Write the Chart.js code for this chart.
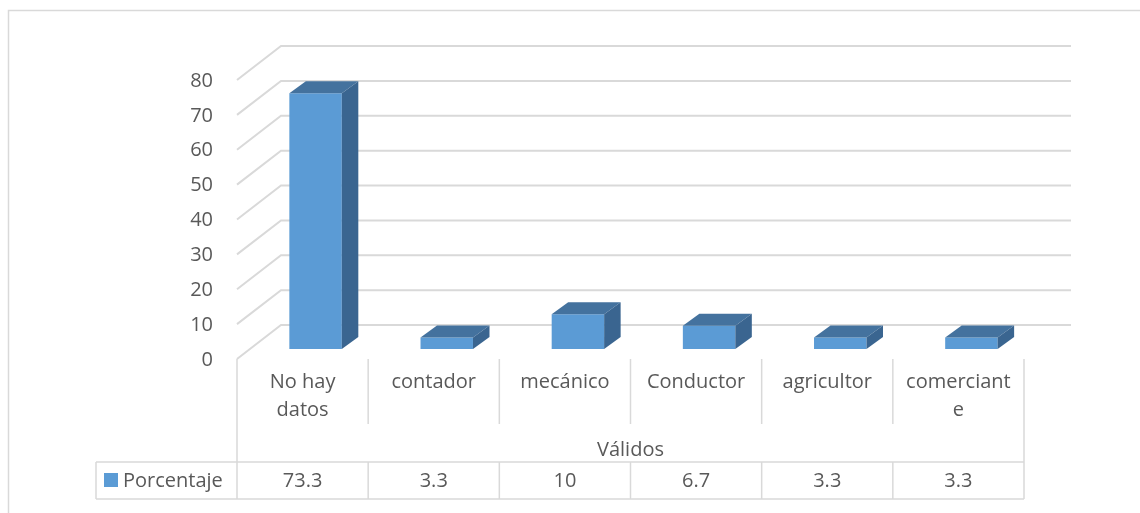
<!DOCTYPE html>
<html>
<head>
<meta charset="utf-8">
<script src="https://cdn.jsdelivr.net/npm/chart.js@4"></script>
<style>html,body{margin:0;padding:0;background:#fff;overflow:hidden}</style>
</head>
<body>
<canvas id="chart" width="1140" height="513"></canvas>
<script>
// data
const categories = [['No hay', 'datos'], ['contador'], ['mecánico'], ['Conductor'], ['agricultor'], ['comerciant', 'e']];
const porcentaje = [73.3, 3.3, 10, 6.7, 3.3, 3.3];
const valueLabels = ['73.3', '3.3', '10', '6.7', '3.3', '3.3'];
const yTicks = [0, 10, 20, 30, 40, 50, 60, 70, 80];
const groupLabel = 'Válidos';
const seriesName = 'Porcentaje';

const FONT = '20px "Open Sans"';
const TXT = '#595959';
const GRID = '#d9d9d9';
// depth offsets: bar plane -> front edge, bar plane -> back wall, bar depth
const FRONT = {dx: -13, dy: 10};
const BACK = {dx: 31, dy: -24};
const BAR = {dx: 16.5, dy: -12};

function line(ctx, x1, y1, x2, y2) {
    ctx.beginPath();
    ctx.moveTo(x1, y1);
    ctx.lineTo(x2, y2);
    ctx.stroke();
}

// draws the fake 3d walls, the data table and the bar tops / sides
const excel3d = {
    id: 'excel3d',
    beforeDatasetsDraw(chart) {
        const {ctx, chartArea: a, scales: {x, y}} = chart;
        ctx.save();
        ctx.strokeStyle = GRID;
        ctx.lineWidth = 1.5;
        ctx.strokeRect(8.5, 10.5, 1300, 700);

        const fl = a.left + FRONT.dx, bl = a.left + BACK.dx, br = a.right + BACK.dx + 3;
        ctx.lineWidth = 2;
        ctx.fillStyle = TXT;
        ctx.font = FONT;
        yTicks.forEach(v => {
            const py = y.getPixelForValue(v);
            ctx.beginPath();
            ctx.moveTo(fl, py + FRONT.dy);
            ctx.lineTo(bl, py + BACK.dy);
            ctx.lineTo(br, py + BACK.dy);
            ctx.stroke();
            ctx.textAlign = 'right';
            ctx.textBaseline = 'middle';
            ctx.fillText(String(v), fl - 24, py + FRONT.dy + 1);
        });

        // table under the floor
        const top = y.getPixelForValue(0) + FRONT.dy;
        const cw = x.width / categories.length;
        const fr = fl + cw * categories.length;
        const hl = top + 103, bot = top + 140, legL = 96;
        ctx.lineWidth = 1.5;
        line(ctx, fl, top, fl, bot);
        line(ctx, fr, top, fr, bot);
        line(ctx, legL, hl, fr, hl);
        line(ctx, legL, bot, fr, bot);
        line(ctx, legL, hl, legL, bot);
        ctx.textAlign = 'center';
        ctx.textBaseline = 'middle';
        categories.forEach((lab, i) => {
            const cx = x.getPixelForValue(i) + FRONT.dx;
            if (i > 0) {
                line(ctx, fl + cw * i, top, fl + cw * i, top + 65);
                line(ctx, fl + cw * i, hl, fl + cw * i, bot);
            }
            lab.forEach((t, k) => ctx.fillText(t, cx, top + 23 + k * 28));
            ctx.fillText(valueLabels[i], cx, hl + 19);
        });
        ctx.fillText(groupLabel, (fl + fr) / 2, top + 91);
        ctx.fillStyle = chart.data.datasets[0].backgroundColor;
        ctx.fillRect(104, hl + 11, 14, 14);
        ctx.fillStyle = TXT;
        ctx.textAlign = 'left';
        ctx.fillText(seriesName, 123, hl + 19);
        ctx.restore();
    },
    afterDatasetsDraw(chart) {
        const {ctx} = chart;
        ctx.save();
        chart.getDatasetMeta(0).data.forEach(bar => {
            const l = bar.x - bar.width / 2, r = bar.x + bar.width / 2, t = bar.y, b = bar.base;
            ctx.fillStyle = '#44729e';
            ctx.beginPath();
            ctx.moveTo(l, t);
            ctx.lineTo(l + BAR.dx, t + BAR.dy);
            ctx.lineTo(r + BAR.dx, t + BAR.dy);
            ctx.lineTo(r, t);
            ctx.closePath();
            ctx.fill();
            ctx.fillStyle = '#3a6590';
            ctx.beginPath();
            ctx.moveTo(r, t);
            ctx.lineTo(r + BAR.dx, t + BAR.dy);
            ctx.lineTo(r + BAR.dx, b + BAR.dy);
            ctx.lineTo(r, b);
            ctx.closePath();
            ctx.fill();
        });
        ctx.restore();
    }
};

const ctx = document.getElementById('chart').getContext('2d');
const chart = new Chart(ctx, {
    type: 'bar',
    data: {
        labels: categories,
        datasets: [{
            label: seriesName,
            data: porcentaje,
            backgroundColor: '#5b9bd5',
            borderWidth: 0,
            barPercentage: 0.4,
            categoryPercentage: 1
        }]
    },
    options: {
        responsive: false,
        animation: false,
        layout: {padding: {left: 250, right: 103, top: 70, bottom: 164}},
        plugins: {
            legend: {display: false},
            tooltip: {enabled: false}
        },
        scales: {
            x: {display: false},
            y: {display: false, min: 0, max: 80}
        }
    },
    plugins: [excel3d]
});
</script>
</body>
</html>
